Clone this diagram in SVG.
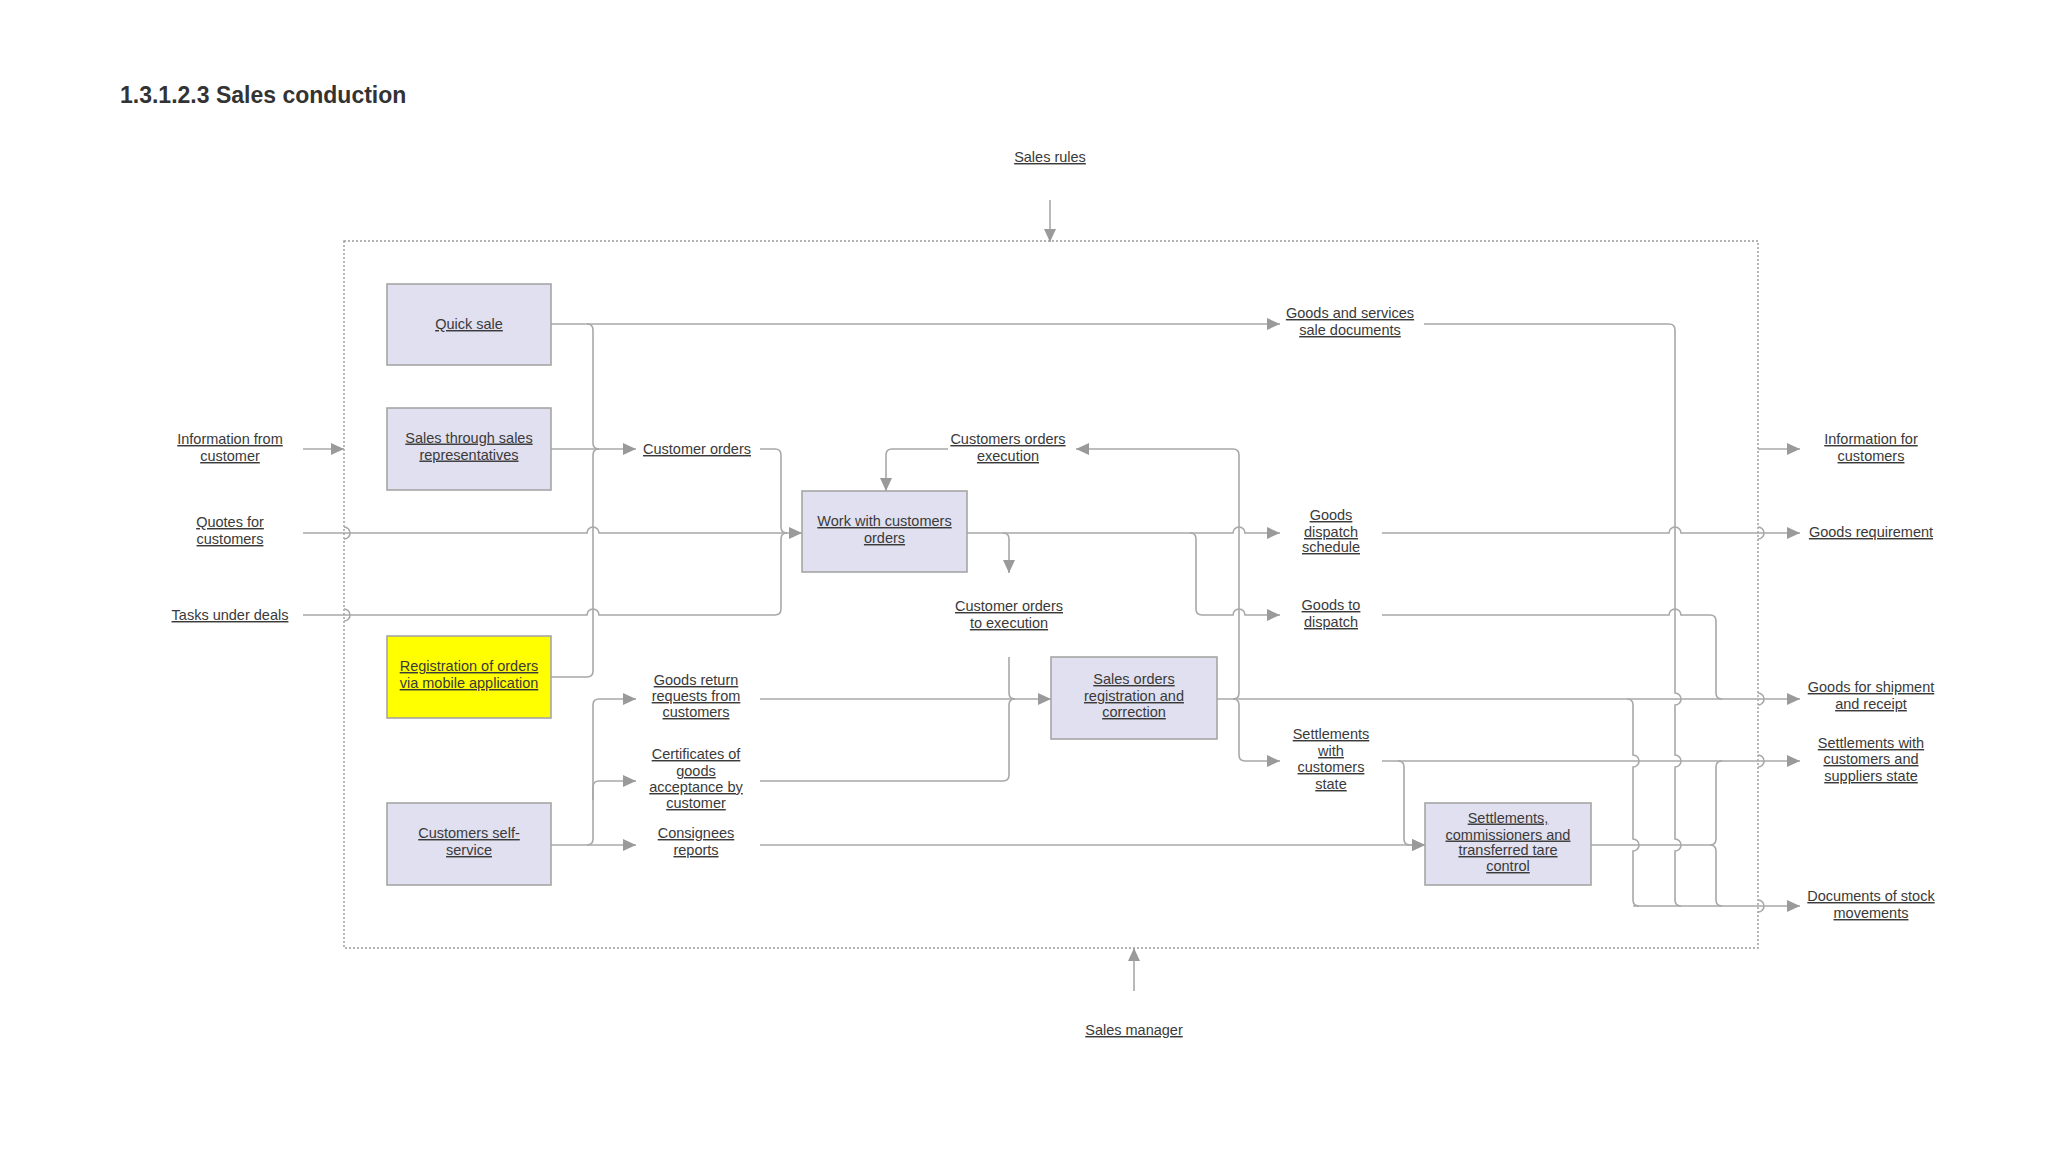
<svg xmlns="http://www.w3.org/2000/svg" width="2048" height="1152" viewBox="0 0 2048 1152">
<defs>
<marker id="ah" markerUnits="userSpaceOnUse" markerWidth="14" markerHeight="14" refX="13" refY="6" orient="auto"><path d="M0,0 L13,6 L0,12 z" fill="#9a9a9a"/></marker>
<style>
.t{font-family:"Liberation Sans",Arial,sans-serif;font-size:14.5px;fill:#3a3a3a;text-decoration:underline;text-anchor:middle}
.title{font-family:"Liberation Sans",Arial,sans-serif;font-size:23px;font-weight:bold;fill:#333}
.box{fill:#e0e0f0;stroke:#a6a6a6;stroke-width:1.6}
.yel{fill:#ffff00;stroke:#a6a6a6;stroke-width:1.6}
.c{fill:none;stroke:#a8a8a8;stroke-width:1.6}
.a{fill:none;stroke:#a8a8a8;stroke-width:1.6;marker-end:url(#ah)}
.bd{fill:none;stroke:#9a9a9a;stroke-width:1.4;stroke-dasharray:2,2}
</style>
</defs>
<rect width="2048" height="1152" fill="#ffffff"/>
<text class="title" x="120" y="103">1.3.1.2.3 Sales conduction</text>

<rect class="bd" x="344" y="241" width="1414" height="707"/>

<g id="connectors">
<!-- external -->
<path class="a" d="M1050,200 V242"/>
<path class="a" d="M1134,991 V948"/>
<path class="a" d="M303,449 H344"/>
<path class="a" d="M303,533 H587 a6,6 0 0 1 12,0 H802"/>
<path class="c" d="M303,615 H587 a6,6 0 0 1 12,0 H775 q6,0 6,-6 V539 q0,-6 6,-6"/>
<path class="c" d="M344,527 a6,6 0 0 1 0,12 M344,609 a6,6 0 0 1 0,12"/>
<!-- left bus -->
<path class="a" d="M551,324 H1280"/>
<path class="c" d="M587,324 q6,0 6,6 V443 q0,6 6,6"/>
<path class="a" d="M551,449 H636"/>
<path class="c" d="M551,677 H587 q6,0 6,-6 V455 q0,-6 6,-6"/>
<path class="a" d="M551,845 H636"/>
<path class="a" d="M587,845 q6,0 6,-6 V705 q0,-6 6,-6 H636"/>
<path class="a" d="M593,800 V787 q0,-6 6,-6 H636"/>
<!-- customer orders to work -->
<path class="c" d="M760,449 H775 q6,0 6,6 V527 q0,6 6,6"/>
<!-- feedback into work -->
<path class="a" d="M948,449 H892 q-6,0 -6,6 V491"/>
<!-- work outputs -->
<path class="a" d="M967,533 H1233 a6,6 0 0 1 12,0 H1280"/>
<path class="a" d="M1003,533 q6,0 6,6 V573"/>
<path class="a" d="M1190,533 q6,0 6,6 V609 q0,6 6,6 H1233 a6,6 0 0 1 12,0 H1280"/>
<!-- into sales orders -->
<path class="a" d="M760,699 H1051"/>
<path class="c" d="M1009,657 V693 q0,6 6,6"/>
<path class="c" d="M760,781 H1003 q6,0 6,-6 V705 q0,-6 6,-6"/>
<path class="a" d="M760,845 H1425"/>
<!-- sales orders outputs -->
<path class="a" d="M1233,699 q6,0 6,-6 V455 q0,-6 -6,-6 H1076"/>
<path class="a" d="M1233,699 q6,0 6,6 V755 q0,6 6,6 H1280"/>
<path class="a" d="M1217,699 H1800"/>
<path class="c" d="M1627,699 q6,0 6,6 V755 a6,6 0 0 1 0,12 V839 a6,6 0 0 1 0,12 V900 q0,6 6,6"/>
<path class="a" d="M1633,906 H1800"/>
<!-- goods and services sale documents -->
<path class="c" d="M1424,324 H1669 q6,0 6,6 V693 a6,6 0 0 1 0,12 V755 a6,6 0 0 1 0,12 V839 a6,6 0 0 1 0,12 V900 q0,6 6,6"/>
<!-- goods dispatch schedule -->
<path class="a" d="M1382,533 H1669 a6,6 0 0 1 12,0 H1800"/>
<!-- goods to dispatch -->
<path class="c" d="M1382,615 H1669 a6,6 0 0 1 12,0 H1710 q6,0 6,6 V693 q0,6 6,6"/>
<!-- settlements with customers state -->
<path class="a" d="M1382,761 H1800"/>
<path class="a" d="M1398,761 q6,0 6,6 V839 q0,6 6,6 H1425"/>
<!-- commissioners output -->
<path class="c" d="M1591,845 H1710 q6,0 6,-6 V767 q0,-6 6,-6"/>
<path class="c" d="M1710,845 q6,0 6,6 V900 q0,6 6,6"/>
<!-- info for customers -->
<path class="a" d="M1758,449 H1800"/>
<path class="c" d="M1758,527 a6,6 0 0 1 0,12 M1758,693 a6,6 0 0 1 0,12 M1758,755 a6,6 0 0 1 0,12 M1758,900 a6,6 0 0 1 0,12"/>
</g>

<g id="labels">
<text class="t" x="1050" y="162">Sales rules</text>
<text class="t" x="1134" y="1035">Sales manager</text>
<text class="t" x="230" y="444">Information from</text>
<text class="t" x="230" y="461">customer</text>
<text class="t" x="230" y="527">Quotes for</text>
<text class="t" x="230" y="544">customers</text>
<text class="t" x="230" y="620">Tasks under deals</text>
<text class="t" x="697" y="454">Customer orders</text>
<text class="t" x="696" y="685">Goods return</text>
<text class="t" x="696" y="701">requests from</text>
<text class="t" x="696" y="717">customers</text>
<text class="t" x="696" y="759">Certificates of</text>
<text class="t" x="696" y="776">goods</text>
<text class="t" x="696" y="792">acceptance by</text>
<text class="t" x="696" y="808">customer</text>
<text class="t" x="696" y="838">Consignees</text>
<text class="t" x="696" y="855">reports</text>
<text class="t" x="1008" y="444">Customers orders</text>
<text class="t" x="1008" y="461">execution</text>
<text class="t" x="1009" y="611">Customer orders</text>
<text class="t" x="1009" y="628">to execution</text>
<text class="t" x="1350" y="318">Goods and services</text>
<text class="t" x="1350" y="335">sale documents</text>
<text class="t" x="1331" y="520">Goods</text>
<text class="t" x="1331" y="537">dispatch</text>
<text class="t" x="1331" y="552">schedule</text>
<text class="t" x="1331" y="610">Goods to</text>
<text class="t" x="1331" y="627">dispatch</text>
<text class="t" x="1331" y="739">Settlements</text>
<text class="t" x="1331" y="756">with</text>
<text class="t" x="1331" y="772">customers</text>
<text class="t" x="1331" y="789">state</text>
<text class="t" x="1871" y="444">Information for</text>
<text class="t" x="1871" y="461">customers</text>
<text class="t" x="1871" y="537">Goods requirement</text>
<text class="t" x="1871" y="692">Goods for shipment</text>
<text class="t" x="1871" y="709">and receipt</text>
<text class="t" x="1871" y="748">Settlements with</text>
<text class="t" x="1871" y="764">customers and</text>
<text class="t" x="1871" y="781">suppliers state</text>
<text class="t" x="1871" y="901">Documents of stock</text>
<text class="t" x="1871" y="918">movements</text>
</g>

<g id="node-quick-sale">
<rect class="box" x="387" y="284" width="164" height="81"/>
<text class="t" x="469" y="329">Quick sale</text>
</g>
<g id="node-sales-reps">
<rect class="box" x="387" y="408" width="164" height="82"/>
<text class="t" x="469" y="442.5">Sales through sales</text>
<text class="t" x="469" y="459.5">representatives</text>
</g>
<g id="node-work-orders">
<rect class="box" x="802" y="491" width="165" height="81"/>
<text class="t" x="884.5" y="526">Work with customers</text>
<text class="t" x="884.5" y="543">orders</text>
</g>
<g id="node-mobile">
<rect class="yel" x="387" y="636" width="164" height="82"/>
<text class="t" x="469" y="671">Registration of orders</text>
<text class="t" x="469" y="688">via mobile application</text>
</g>
<g id="node-self-service">
<rect class="box" x="387" y="803" width="164" height="82"/>
<text class="t" x="469" y="838">Customers self-</text>
<text class="t" x="469" y="855">service</text>
</g>
<g id="node-sales-orders">
<rect class="box" x="1051" y="657" width="166" height="82"/>
<text class="t" x="1134" y="684">Sales orders</text>
<text class="t" x="1134" y="701">registration and</text>
<text class="t" x="1134" y="717">correction</text>
</g>
<g id="node-settlements">
<rect class="box" x="1425" y="803" width="166" height="82"/>
<text class="t" x="1508" y="822.5">Settlements,</text>
<text class="t" x="1508" y="839.5">commissioners and</text>
<text class="t" x="1508" y="855">transferred tare</text>
<text class="t" x="1508" y="871">control</text>
</g>
</svg>
